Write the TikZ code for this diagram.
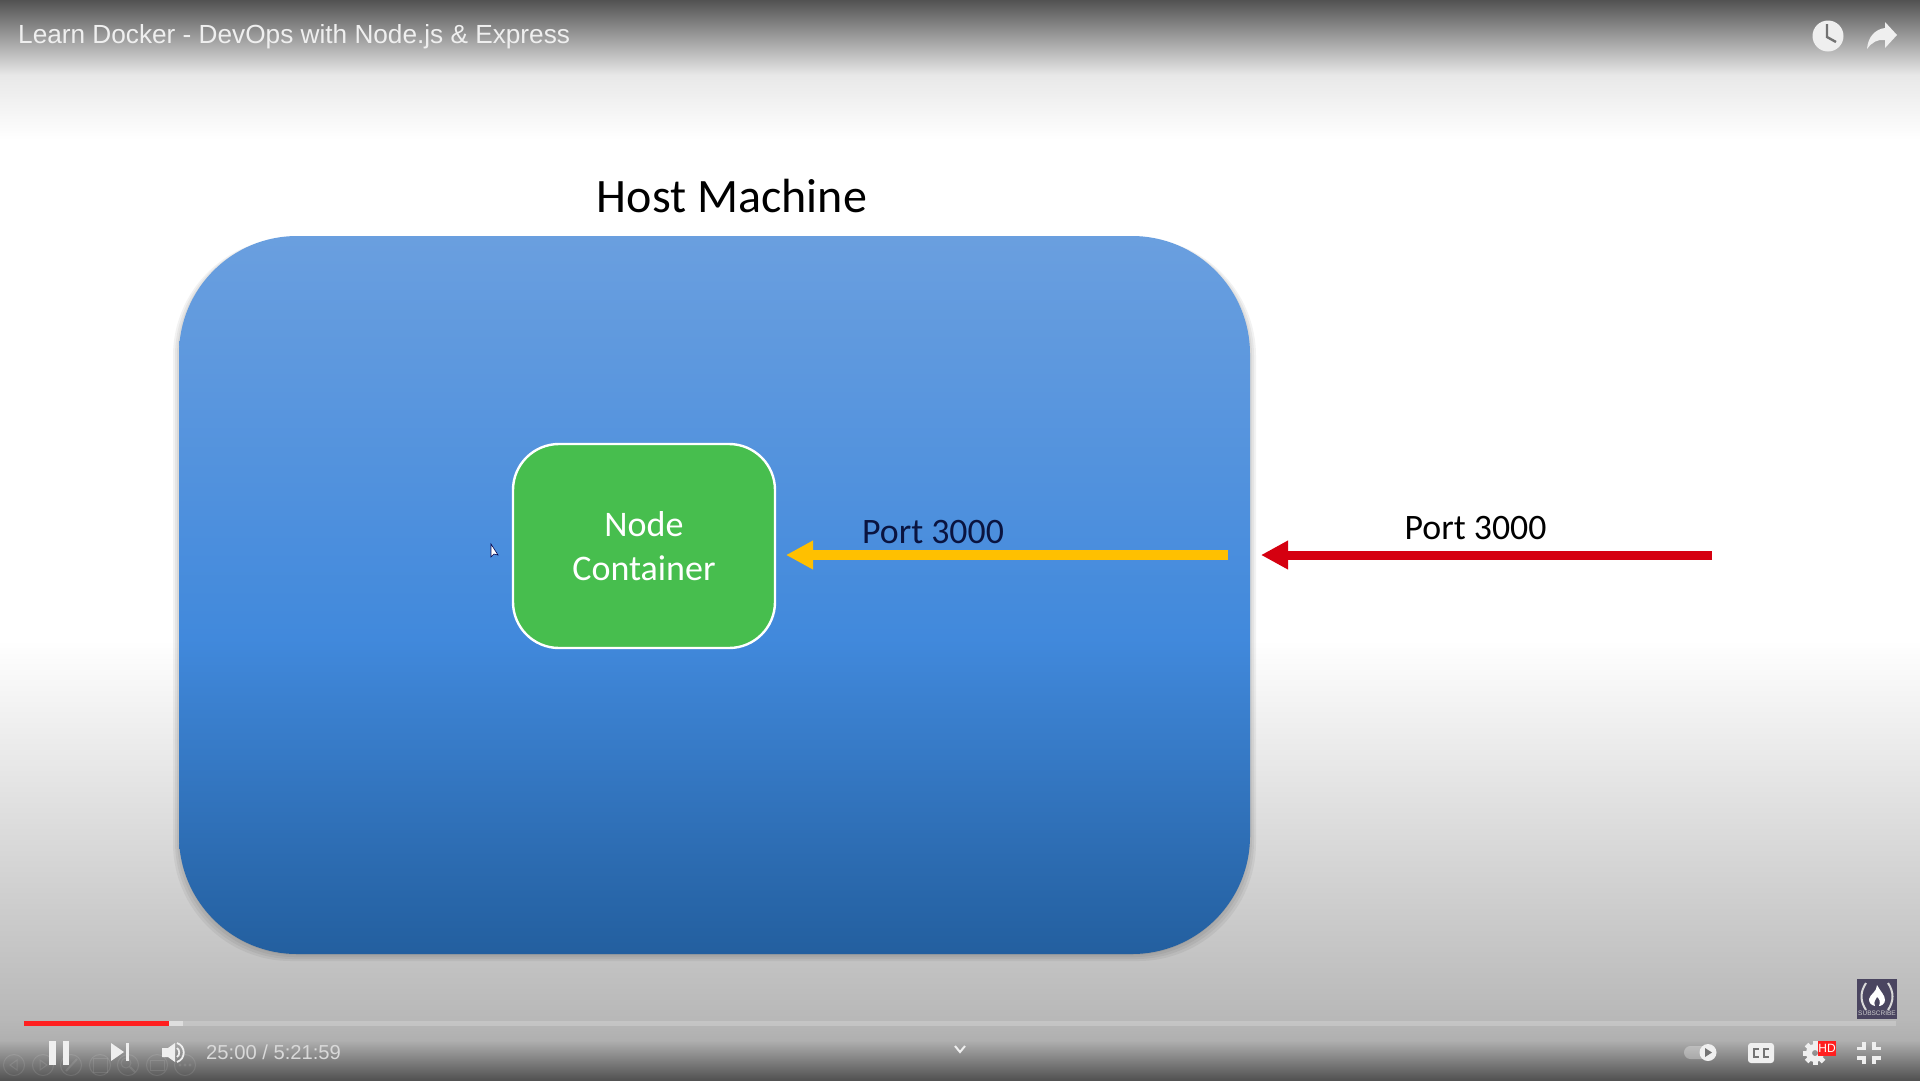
\documentclass[tikz,border=0pt]{standalone}
\usepackage{fontspec}
\setmainfont{Carlito}
\newfontfamily\uifont{Liberation Sans}
\usetikzlibrary{arrows.meta}
\definecolor{hosttop}{HTML}{6A9FDF}
\definecolor{hostmid}{HTML}{4189DC}
\definecolor{hostbot}{HTML}{235F9F}
\definecolor{greenbox}{HTML}{47BE4E}
\definecolor{ytyellow}{HTML}{FFC000}
\definecolor{redarrow}{HTML}{D50010}
\definecolor{ytred}{HTML}{FF1F1F}
\definecolor{darktext}{HTML}{0A1440}
\definecolor{subbox}{HTML}{4A4560}
\definecolor{icon}{HTML}{EFEFEF}
\pgfdeclareverticalshading{hostshade}{100bp}{color(0bp)=(hostbot); color(25bp)=(hostbot); color(47bp)=(hostmid); color(75bp)=(hosttop); color(100bp)=(hosttop)}
\tikzset{
  hostbox/.style={rounded corners=118pt,minimum width=1071pt,minimum height=718pt,inner sep=0pt,shading=hostshade},
  hostsh/.style={rounded corners=118pt,fill=black,opacity=0.05},
  containerbox/.style={rounded corners=46pt,minimum width=262pt,minimum height=204pt,inner sep=0pt,fill=greenbox,draw=white,line width=2.4pt,text=white,align=center,font=\fontsize{36}{43.5}\selectfont},
  port/.style={text=black,font=\fontsize{35.8}{40}\selectfont,inner sep=0pt},
  yarrow/.style={draw=ytyellow,line width=10pt,-{Triangle[length=27pt,width=27pt]}},
  rarrow/.style={draw=redarrow,line width=9pt,-{Triangle[length=27pt,width=27pt]}},
  uitext/.style={font=\uifont\fontsize{26.2}{32}\selectfont,text=icon,inner sep=0pt,anchor=west},
  ctrl/.style={fill=icon,draw=none},
  faint/.style={draw=white,opacity=0.1,line width=1pt},
}
\begin{document}
\begin{tikzpicture}[x=1pt,y=-1pt]
\useasboundingbox (0,0) rectangle (1920,1080);
% page background
\fill[white] (0,0) rectangle (1920,1080);
\shade[top color=black!68,bottom color=black!9] (0,0) rectangle (1920,75);
\shade[top color=black!9,bottom color=white] (0,75) rectangle (1920,140);
\shade[top color=white,bottom color=black!28] (0,640) rectangle (1920,1020);
\shade[top color=black!28,bottom color=black!31] (0,1020) rectangle (1920,1040);
\shade[top color=black!31,bottom color=black!68] (0,1040) rectangle (1920,1080);
% host shadow
\foreach \s in {0,2,4,6} {\fill[hostsh] (179-\s,238) rectangle (1250+\s,955+\s);}
% host
\node[hostbox] (host) at (714.5,595) {};
\node[font=\fontsize{48}{54}\selectfont,text=black,inner sep=0pt] (hostlabel) at (732,196) {Host Machine};
% container
\node[containerbox] (container) at (644,546) {Node\\Container};
% connectors
\coordinate (ytail) at (1228,555);
\coordinate (yhead) at (786,555);
\coordinate (rtail) at (1712,555);
\coordinate (rhead) at (1261,555);
\draw[yarrow] (ytail) -- (yhead);
\draw[rarrow] (rtail) -- (rhead);
\node[port,text=darktext] (port1) at (933,532) {Port 3000};
\node[port] (port2) at (1475.5,528) {Port 3000};
% mouse cursor
\fill[white,draw=black!70!blue,line width=.6pt] (491,544) -- (491,557) -- (494,554) -- (498,555) -- cycle;
% title bar
\node[uitext] (title) at (18,37) {Learn Docker - DevOps with Node.js \& Express};
\fill[icon] (1828,36) circle (15.5);
\draw[black!55,line width=2.4pt] (1827,24) -- (1827,37) -- (1836,42);
\fill[icon] (1867,49) .. controls (1868,36) and (1876,29) .. (1885,28) -- (1885,22) -- (1897,35) -- (1885,48) -- (1885,40) .. controls (1878,39) and (1872,42) .. (1867,49) -- cycle;
% progress bar
\fill[white,opacity=0.2] (183,1021) rectangle (1896,1026);
\fill[white,opacity=0.55] (169,1021) rectangle (183,1026);
\fill[ytred] (24,1021) rectangle (169,1026);
% faint overlay icons
\foreach \x in {14,43,71,100,128,157,185} {\draw[faint] (\x,1065) circle (10.5);}
\draw[faint] (17,1060) -- (10,1065) -- (17,1070) -- cycle;
\draw[faint] (40,1060) -- (47,1065) -- (40,1070) -- cycle;
\draw[faint,line width=2pt] (66,1071) -- (77,1059);
\draw[faint] (93,1058) rectangle (107,1072);
\draw[faint] (126,1063) circle (5);
\draw[faint,line width=2pt] (130,1067) -- (135,1072);
\draw[faint] (150,1060) rectangle (164,1070);
\foreach \x in {180,185,190} {\fill[white,opacity=.1] (\x,1065) circle (1.7);}
% controls
\fill[ctrl] (49,1041) rectangle (56,1065);
\fill[ctrl] (63,1041) rectangle (69,1065);
\fill[ctrl] (111,1043) -- (124,1052) -- (111,1061) -- cycle;
\fill[ctrl] (126,1043) rectangle (129,1061);
\fill[ctrl] (162,1048) -- (168,1048) -- (175,1043) -- (175,1062) -- (168,1057) -- (162,1057) -- cycle;
\draw[icon,line width=1.8pt] (177,1048) .. controls (180,1050) and (180,1055) .. (177,1057);
\draw[icon,line width=1.8pt] (177,1043) .. controls (186,1046) and (186,1059) .. (177,1062);
\node[uitext,font=\uifont\fontsize{20.2}{25}\selectfont,text=black!15] (time) at (206,1052) {25:00 / 5:21:59};
% chevron
\draw[icon,line width=2pt] (955,1046) -- (960,1052) -- (965,1046);
% right controls
\fill[white,opacity=.3,rounded corners=6.5pt] (1684,1046) rectangle (1712,1059);
\fill[icon] (1708,1052.5) circle (8.5);
\fill[black!55] (1705,1048) -- (1712,1052.5) -- (1705,1057) -- cycle;
\fill[icon,rounded corners=3pt] (1748,1043) rectangle (1774,1063);
\draw[black!55,line width=2pt] (1759,1049) -- (1754,1049) -- (1754,1057) -- (1759,1057);
\draw[black!55,line width=2pt] (1769,1049) -- (1764,1049) -- (1764,1057) -- (1769,1057);
\draw[icon,line width=6pt] (1815,1053) circle (6);
\foreach \a in {0,45,...,315} {\fill[icon,rotate around={\a:(1815,1053)}] (1812.5,1041) rectangle (1817.5,1046);}
\fill[ytred] (1818,1041) rectangle (1836,1056);
\node[font=\uifont\fontsize{12}{12}\selectfont,text=white,inner sep=0pt] (hd) at (1827,1048.5) {HD};
\draw[icon,line width=3.2pt]
  (1864,1042) -- (1864,1048.5) -- (1857,1048.5)
  (1874,1042) -- (1874,1048.5) -- (1881,1048.5)
  (1857,1058) -- (1864,1058) -- (1864,1064)
  (1881,1058) -- (1874,1058) -- (1874,1064);
% subscribe badge
\fill[subbox] (1857,979) rectangle (1897,1019);
\draw[black!15,line width=2pt] (1866,983) .. controls (1860,992) and (1860,1001) .. (1866,1010);
\draw[black!15,line width=2pt] (1888,983) .. controls (1894,992) and (1894,1001) .. (1888,1010);
\fill[white] (1877,985) .. controls (1880,991) and (1885,995) .. (1885,1000) .. controls (1885,1004) and (1881,1006) .. (1879,1006) .. controls (1881,1002) and (1879,998) .. (1877,997) .. controls (1876,1000) and (1873,1001) .. (1875,1006) .. controls (1871,1005) and (1869,1003) .. (1869,999) .. controls (1870,994) and (1877,992) .. (1877,985) -- cycle;
\node[font=\uifont\fontsize{6.5}{7}\selectfont,text=black!20,inner sep=0pt] (sub) at (1877,1013.5) {SUBSCRIBE};
\end{tikzpicture}
\end{document}
